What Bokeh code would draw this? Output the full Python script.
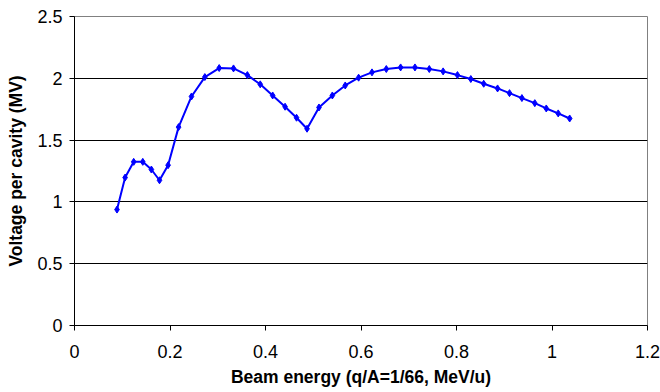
from bokeh.plotting import figure
from bokeh.models import Range1d, FixedTicker, CustomJSTickFormatter
from bokeh.embed import file_html
from bokeh.resources import INLINE

energy = [0.089, 0.106, 0.124, 0.143, 0.161, 0.178, 0.196, 0.218, 0.245, 0.273,
          0.303, 0.333, 0.362, 0.389, 0.415, 0.441, 0.465, 0.487, 0.512, 0.540,
          0.567, 0.595, 0.623, 0.653, 0.683, 0.713, 0.743, 0.772, 0.802, 0.830,
          0.857, 0.886, 0.911, 0.937, 0.964, 0.988, 1.013, 1.037]
voltage = [0.938, 1.197, 1.324, 1.324, 1.262, 1.175, 1.297, 1.605, 1.853, 2.010,
           2.083, 2.080, 2.026, 1.951, 1.861, 1.770, 1.681, 1.592, 1.764, 1.861,
           1.942, 2.005, 2.048, 2.075, 2.088, 2.088, 2.075, 2.056, 2.026, 1.994,
           1.956, 1.918, 1.880, 1.840, 1.799, 1.756, 1.716, 1.675]
x_ticks = [0, 0.2, 0.4, 0.6, 0.8, 1.0, 1.2]
y_ticks = [0, 0.5, 1.0, 1.5, 2.0, 2.5]

p = figure(width=660, height=392, output_backend="svg", toolbar_location=None,
           x_range=Range1d(0, 1.2), y_range=Range1d(0, 2.5),
           min_border_left=74, min_border_right=13, min_border_top=16, min_border_bottom=67)
p.background_fill_color = "white"
p.border_fill_color = "white"
p.outline_line_color = "#808080"
p.outline_line_width = 1

p.line(energy, voltage, line_color="#0000FF", line_width=2)
p.scatter(energy, voltage, marker="diamond", size=7, fill_color="#0000FF", line_color="#0000FF")

fmt = CustomJSTickFormatter(code="return String(Math.round(tick*10)/10);")
for ax, ticks in ((p.xaxis[0], x_ticks), (p.yaxis[0], y_ticks)):
    ax.ticker = FixedTicker(ticks=ticks)
    ax.formatter = fmt
    ax.minor_tick_line_color = None
    ax.major_tick_in = 0
    ax.major_tick_out = 5
    ax.axis_line_color = "black"
    ax.major_tick_line_color = "black"
    ax.major_label_text_font = "Liberation Sans"
    ax.major_label_text_font_size = "18px"
    ax.major_label_text_color = "black"
    ax.axis_label_text_font = "Liberation Sans"
    ax.axis_label_text_font_size = "17.5px"
    ax.axis_label_text_font_style = "bold"
    ax.axis_label_text_color = "black"

p.xaxis.axis_label = "Beam energy (q/A=1/66, MeV/u)"
p.yaxis.axis_label = "Voltage per cavity (MV)"
p.xaxis.major_label_standoff = 14
p.xaxis.axis_label_standoff = 6
p.yaxis.major_label_standoff = 7
p.yaxis.axis_label_standoff = 8

p.xgrid.grid_line_color = None
p.ygrid.grid_line_color = "black"
p.ygrid.grid_line_width = 1

open("out.html", "w").write(file_html(p, INLINE))
